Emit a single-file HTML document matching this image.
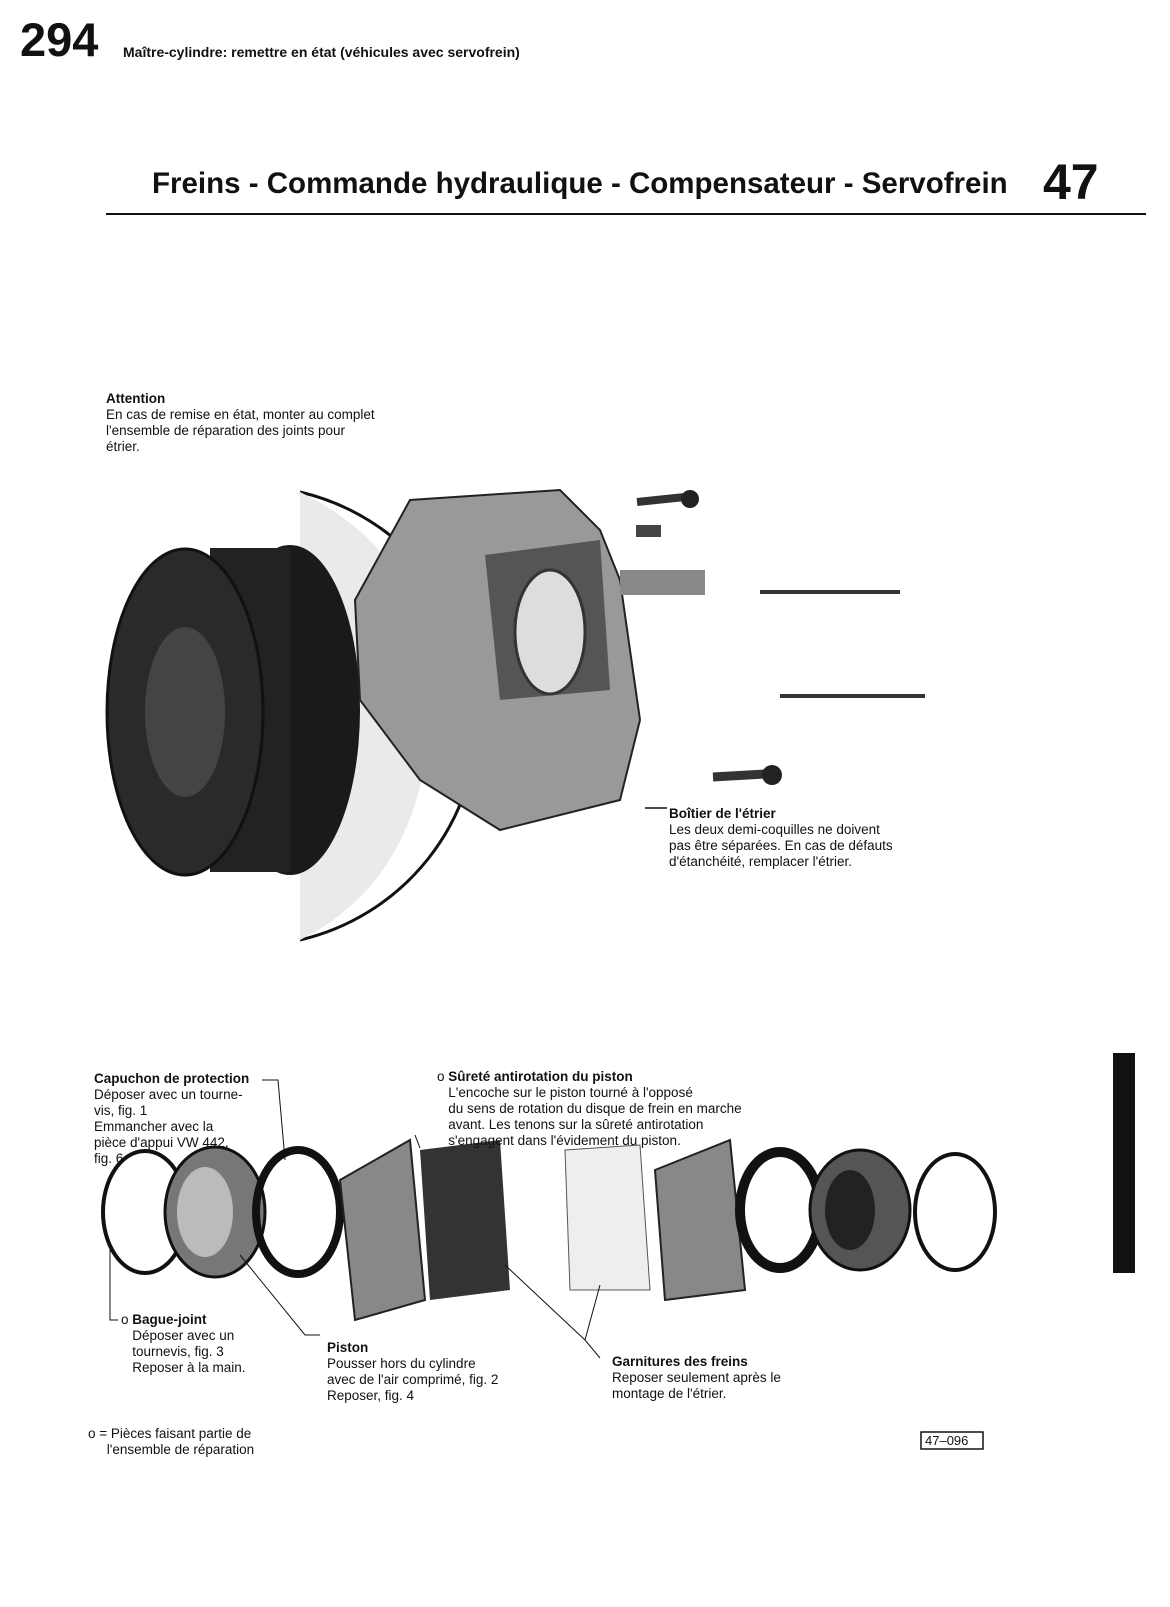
<!DOCTYPE html>
<html><head><meta charset="utf-8">
<style>
body{margin:0;background:#fff;}
#p{position:relative;width:1170px;height:1607px;overflow:hidden;background:#fff;font-family:"Liberation Sans",sans-serif;color:#111;}
.t{position:absolute;font-size:13.5px;line-height:16px;white-space:nowrap;}
b{font-weight:bold;}
</style></head><body><div id="p">
<div class="t" style="left:20px;top:14px;font-size:47px;line-height:52px;font-weight:bold;letter-spacing:0px">294</div>
<div class="t" style="left:123px;top:44px;font-size:14px;font-weight:bold">Maître-cylindre: remettre en état (véhicules avec servofrein)</div>
<div class="t" style="left:152px;top:167px;font-size:29.5px;line-height:34px;font-weight:bold">Freins - Commande hydraulique - Compensateur - Servofrein</div>
<div class="t" style="left:1043px;top:154px;font-size:50px;line-height:56px;font-weight:bold">47</div>
<div style="position:absolute;left:106px;top:213px;width:1040px;height:2px;background:#111"></div>

<div class="t" style="left:106px;top:391px"><b>Attention</b><br>En cas de remise en état, monter au complet<br>l'ensemble de réparation des joints pour<br>étrier.</div>

<svg style="position:absolute;left:0;top:0" width="1170" height="1607">
<path d="M300 492 A230 230 0 0 1 300 940" fill="none" stroke="#111" stroke-width="3"/>
<path d="M300 492 Q440 560 430 720 Q420 880 300 940 Z" fill="#eaeaea"/>
<ellipse cx="290" cy="710" rx="70" ry="165" fill="#1a1a1a"/>
<rect x="210" y="548" width="80" height="324" fill="#222"/>
<ellipse cx="185" cy="712" rx="78" ry="163" fill="#2a2a2a" stroke="#111" stroke-width="3"/>
<ellipse cx="185" cy="712" rx="40" ry="85" fill="#444"/>
<path d="M355 600 L410 500 L560 490 L600 530 L620 580 L640 720 L620 800 L500 830 L420 780 L360 700 Z" fill="#999" stroke="#222" stroke-width="2"/>
<path d="M485 555 L600 540 L610 690 L500 700 Z" fill="#555"/>
<ellipse cx="550" cy="632" rx="35" ry="62" fill="#ddd" stroke="#333" stroke-width="3"/>
<rect x="620" y="570" width="85" height="25" fill="#888"/>
<path d="M637 502 L685 497" stroke="#333" stroke-width="8"/><circle cx="690" cy="499" r="9" fill="#222"/>
<rect x="636" y="525" width="25" height="12" fill="#444"/>
<line x1="760" y1="592" x2="900" y2="592" stroke="#333" stroke-width="4"/>
<line x1="780" y1="696" x2="925" y2="696" stroke="#333" stroke-width="4"/>
<path d="M713 777 L765 774" stroke="#333" stroke-width="9"/><circle cx="772" cy="775" r="10" fill="#222"/>
<line x1="645" y1="808" x2="667" y2="808" stroke="#111" stroke-width="1.5"/>
<ellipse cx="145" cy="1212" rx="42" ry="61" fill="none" stroke="#111" stroke-width="4"/>
<ellipse cx="215" cy="1212" rx="50" ry="65" fill="#777" stroke="#111" stroke-width="3"/>
<ellipse cx="205" cy="1212" rx="28" ry="45" fill="#bbb"/>
<ellipse cx="298" cy="1212" rx="42" ry="62" fill="none" stroke="#111" stroke-width="8"/>
<path d="M340 1180 L410 1140 L425 1300 L355 1320 Z" fill="#888" stroke="#222" stroke-width="2"/>
<path d="M420 1150 L500 1140 L510 1290 L430 1300 Z" fill="#333"/>
<path d="M565 1150 L640 1145 L650 1290 L570 1290 Z" fill="#eee" stroke="#555"/>
<path d="M655 1170 L730 1140 L745 1290 L665 1300 Z" fill="#888" stroke="#222" stroke-width="2"/>
<ellipse cx="780" cy="1210" rx="40" ry="58" fill="none" stroke="#111" stroke-width="10"/>
<ellipse cx="860" cy="1210" rx="50" ry="60" fill="#555" stroke="#111" stroke-width="3"/>
<ellipse cx="850" cy="1210" rx="25" ry="40" fill="#222"/>
<ellipse cx="955" cy="1212" rx="40" ry="58" fill="none" stroke="#111" stroke-width="4"/>
<polyline points="262,1080 278,1080 285,1160" fill="none" stroke="#111"/>
<polyline points="110,1245 110,1320 118,1320" fill="none" stroke="#111"/>
<polyline points="240,1255 305,1335 320,1335" fill="none" stroke="#111"/>
<polyline points="600,1358 585,1340 505,1265" fill="none" stroke="#111"/>
<line x1="585" y1="1340" x2="600" y2="1285" stroke="#111"/>
<line x1="420" y1="1148" x2="415" y2="1135" stroke="#111"/>
<rect x="1113" y="1053" width="22" height="220" fill="#111"/>
<rect x="921" y="1432" width="62" height="17" fill="none" stroke="#111" stroke-width="1.5"/>
</svg>

<div class="t" style="left:669px;top:806px"><b>Boîtier de l'étrier</b><br>Les deux demi-coquilles ne doivent<br>pas être séparées. En cas de défauts<br>d'étanchéité, remplacer l'étrier.</div>
<div class="t" style="left:94px;top:1071px"><b>Capuchon de protection</b><br>Déposer avec un tourne-<br>vis, fig. 1<br>Emmancher avec la<br>pièce d'appui VW 442,<br>fig. 6</div>
<div class="t" style="left:437px;top:1069px">o <b>Sûreté antirotation du piston</b><br>&nbsp;&nbsp;&nbsp;L'encoche sur le piston tourné à l'opposé<br>&nbsp;&nbsp;&nbsp;du sens de rotation du disque de frein en marche<br>&nbsp;&nbsp;&nbsp;avant. Les tenons sur la sûreté antirotation<br>&nbsp;&nbsp;&nbsp;s'engagent dans l'évidement du piston.</div>
<div class="t" style="left:121px;top:1312px">o <b>Bague-joint</b><br>&nbsp;&nbsp;&nbsp;Déposer avec un<br>&nbsp;&nbsp;&nbsp;tournevis, fig. 3<br>&nbsp;&nbsp;&nbsp;Reposer à la main.</div>
<div class="t" style="left:327px;top:1340px"><b>Piston</b><br>Pousser hors du cylindre<br>avec de l'air comprimé, fig. 2<br>Reposer, fig. 4</div>
<div class="t" style="left:612px;top:1354px"><b>Garnitures des freins</b><br>Reposer seulement après le<br>montage de l'étrier.</div>
<div class="t" style="left:88px;top:1426px">o = Pièces faisant partie de<br>&nbsp;&nbsp;&nbsp;&nbsp;&nbsp;l'ensemble de réparation</div>
<div class="t" style="left:925px;top:1433px;font-size:13px">47–096</div>
</div></body></html>
